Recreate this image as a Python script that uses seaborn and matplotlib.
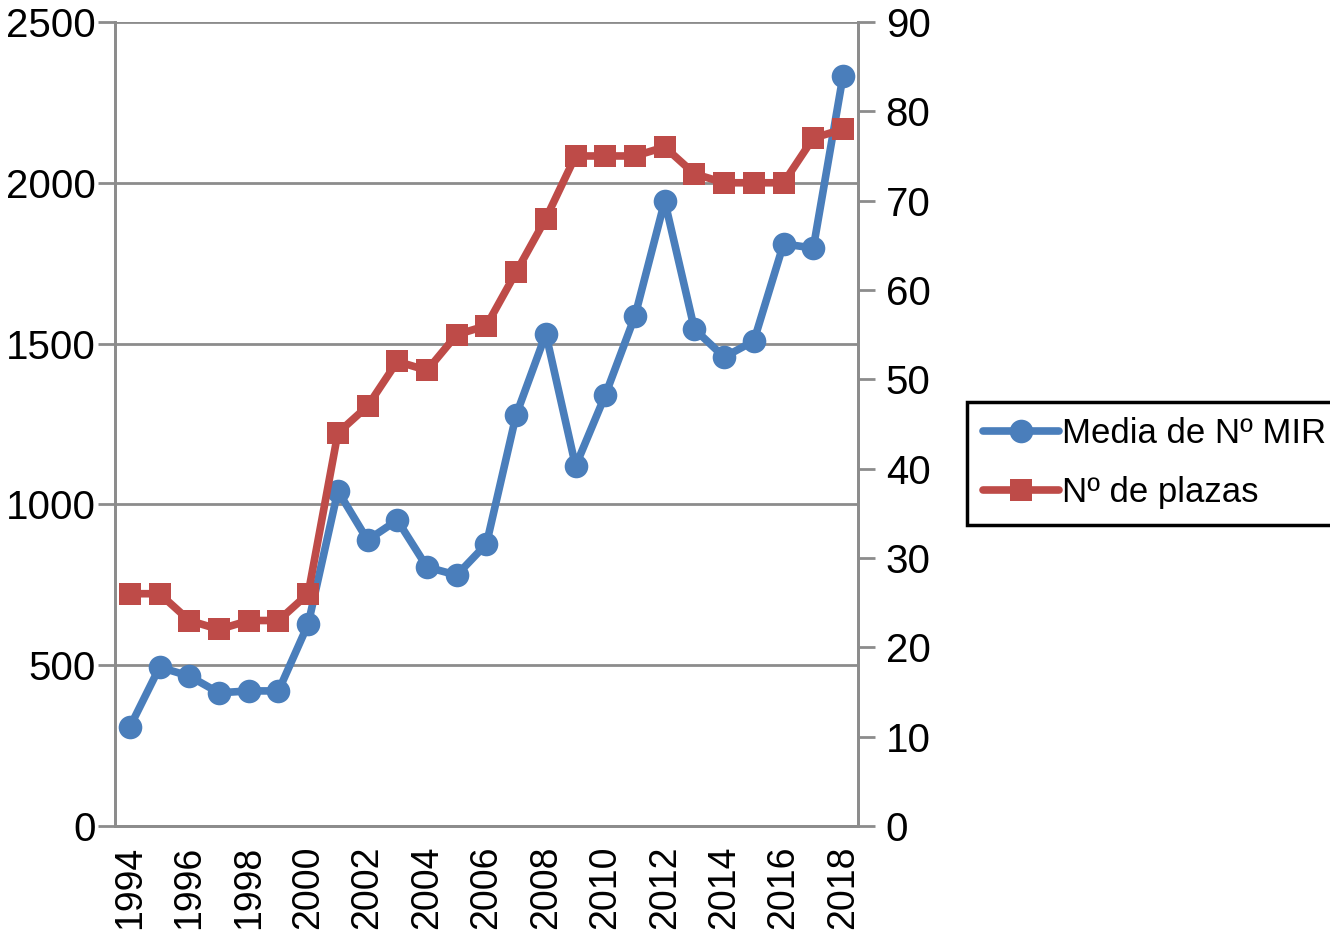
import numpy as np
import pandas as pd
import matplotlib
matplotlib.use("Agg")
import matplotlib.pyplot as plt
import seaborn as sns

years = list(range(1994, 2019))
media_mir = [308, 494, 466, 414, 420, 420, 628, 1042, 889, 951, 805, 780, 877,
             1278, 1530, 1119, 1340, 1586, 1943, 1545, 1458, 1508, 1810, 1797, 2332]
plazas = [26, 26, 23, 22, 23, 23, 26, 44, 47, 52, 51, 55, 56,
          62, 68, 75, 75, 75, 76, 73, 72, 72, 72, 77, 78]

blue = '#4A7EBB'
red = '#BE4B48'
grid_col = '#8C8C8C'

df = pd.DataFrame({'year': years, 'mir': media_mir, 'plazas': plazas})

sns.set_style('white')
plt.rcParams['font.family'] = ['Liberation Sans', 'DejaVu Sans']
plt.rcParams['text.color'] = 'black'
plt.rcParams['xtick.color'] = 'black'
plt.rcParams['ytick.color'] = 'black'

fig = plt.figure(figsize=(13.3, 9.31), dpi=100)
ax = fig.add_axes([0.0865, 0.1128, 0.5585, 0.8636])
ax2 = ax.twinx()

sns.lineplot(data=df, x='year', y='mir', ax=ax, color=blue, linewidth=5.5,
             marker='o', markersize=17, markeredgewidth=0, label='Media de Nº MIR', legend=False)
sns.lineplot(data=df, x='year', y='plazas', ax=ax2, color=red, linewidth=5.5,
             marker='s', markersize=16, markeredgewidth=0, label='Nº de plazas', legend=False)

ax.set_xlim(1993.5, 2018.5)
ax.set_ylim(0, 2500)
ax2.set_ylim(0, 90)
ax.set_yticks(range(0, 2501, 500))
ax2.set_yticks(range(0, 91, 10))

# boundary ticks without labels, labels centred on even years
ax.set_xticks(np.arange(1993.5, 2019, 1.0))
ax.set_xticklabels([])
ax.set_xticks(years[::2], minor=True)
ax.set_xticklabels([str(y) for y in years[::2]], minor=True, rotation=90, fontsize=27)
ax.tick_params(axis='x', which='major', length=12, width=2, color=grid_col, direction='out')
ax.tick_params(axis='x', which='minor', length=0, pad=14, labelcolor='black')

ax.yaxis.grid(True, color=grid_col, linewidth=2)
ax.set_axisbelow(True)
ax.tick_params(axis='y', length=12, width=2, color=grid_col, labelsize=29, pad=2, labelcolor='black')
ax2.tick_params(axis='y', length=12, width=2, color=grid_col, labelsize=29, pad=8, labelcolor='black')

for a in (ax, ax2):
    a.set_xlabel('')
    a.set_ylabel('')
    for side in ('left', 'right', 'bottom'):
        a.spines[side].set_color(grid_col)
        a.spines[side].set_linewidth(2)
    a.spines['top'].set_visible(False)
    a.set_zorder(1)
ax2.set_zorder(ax.get_zorder() + 1)
ax.patch.set_visible(False)

h1, l1 = ax.get_legend_handles_labels()
h2, l2 = ax2.get_legend_handles_labels()
leg = fig.legend(h1 + h2, l1 + l2, loc='center left', bbox_to_anchor=(0.727, 0.5025),
                 fontsize=25, frameon=True, fancybox=False, edgecolor='black', framealpha=1,
                 handlelength=2.2, handletextpad=0.1, borderpad=0.45, labelspacing=0.75,
                 borderaxespad=0)
leg.get_frame().set_linewidth(2.5)
for t in leg.get_texts():
    t.set_color('black')

fig.savefig('out.png', dpi=100)
